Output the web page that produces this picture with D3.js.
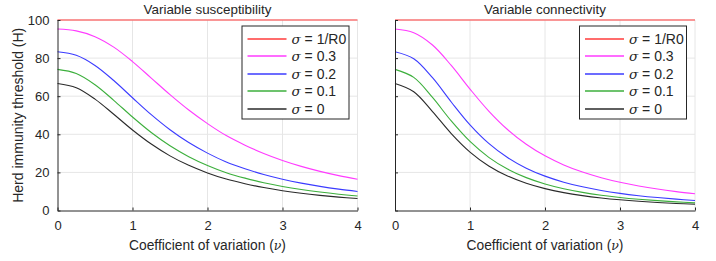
<!DOCTYPE html>
<html lang="en">
<head>
<meta charset="UTF-8">
<title>Herd immunity threshold</title>
<script src="https://cdn.jsdelivr.net/npm/d3@7"></script>
<style>
  body { margin: 0; background: #fff; }
  text { font-family: "Liberation Sans", Arial, Helvetica, sans-serif; fill: #262626; }
</style>
</head>
<body>
<script>
// coefficient of variation sample points
var cv = [0, 0.25, 0.5, 0.75, 1, 1.25, 1.5, 1.75, 2, 2.25, 2.5, 2.75, 3, 3.25, 3.5, 3.75, 4];

var xTicks = [0, 1, 2, 3, 4];
var yTicks = [0, 20, 40, 60, 80, 100];
var seriesNames = ["1/R0", "0.3", "0.2", "0.1", "0"];
var seriesColors = ["#ff3b3b", "#ff3bff", "#3b3bff", "#3caf3c", "#2a2a2a"];

// variable susceptibility panel (H in %)
var suscR0  = [100, 100, 100, 100, 100, 100, 100, 100, 100, 100, 100, 100, 100, 100, 100, 100, 100];
var susc03  = [95.24, 94.30, 91.25, 85.75, 78.18, 69.52, 60.81, 52.74, 45.61, 39.32, 34.29, 29.92, 26.25, 23.15, 20.53, 18.30, 16.40];
var susc02  = [83.33, 81.48, 76.15, 68.23, 59.18, 50.30, 42.38, 35.66, 30.12, 25.47, 21.90, 18.88, 16.40, 14.35, 12.65, 11.21, 10.00];
var susc01  = [74.07, 71.93, 66.04, 57.85, 49.08, 40.95, 33.99, 28.27, 23.66, 19.87, 16.99, 14.59, 12.63, 11.02, 9.69, 8.57, 7.63];
var susc00  = [66.67, 64.44, 58.48, 50.50, 42.26, 34.87, 28.68, 23.70, 19.73, 16.50, 14.06, 12.04, 10.40, 9.06, 7.96, 7.03, 6.26];

// variable connectivity panel (H in %)
var connR0  = [100, 100, 100, 100, 100, 100, 100, 100, 100, 100, 100, 100, 100, 100, 100, 100, 100];
var conn03  = [95.24, 93.32, 86.86, 76.13, 63.75, 52.20, 42.51, 34.77, 28.70, 23.94, 20.19, 17.21, 14.81, 12.86, 11.25, 9.93, 8.81];
var conn02  = [83.33, 79.66, 69.71, 56.97, 44.97, 35.23, 27.80, 22.23, 18.05, 14.88, 12.43, 10.52, 9.00, 7.78, 6.79, 5.97, 5.28];
var conn01  = [74.07, 69.88, 59.34, 47.02, 36.24, 27.91, 21.76, 17.26, 13.93, 11.43, 9.52, 8.03, 6.86, 5.92, 5.16, 4.53, 4.01];
var conn00  = [66.67, 62.34, 51.92, 40.37, 30.66, 23.38, 18.11, 14.29, 11.49, 9.40, 7.82, 6.59, 5.62, 4.84, 4.22, 3.70, 3.27];

var W = 716, H = 261;
var svg = d3.select("body").append("svg")
    .attr("width", W)
    .attr("height", H);

var y = d3.scaleLinear().domain([0, 100]).range([210.5, 20]);

function panel(x0, x1, title, series, showYLabels) {
  var x = d3.scaleLinear().domain([0, 4]).range([x0, x1]);
  var g = svg.append("g");

  // grid
  g.selectAll(".gx").data(xTicks.slice(1)).enter().append("line")
    .attr("x1", function(d) { return x(d); }).attr("x2", function(d) { return x(d); })
    .attr("y1", y(0)).attr("y2", y(100))
    .attr("stroke", "#e6e6e6").attr("stroke-width", 1);
  g.selectAll(".gy").data(yTicks.slice(1)).enter().append("line")
    .attr("x1", x0).attr("x2", x1)
    .attr("y1", function(d) { return y(d); }).attr("y2", function(d) { return y(d); })
    .attr("stroke", "#e6e6e6").attr("stroke-width", 1);

  // curves
  var line = d3.line()
    .x(function(d, i) { return x(cv[i]); })
    .y(function(d) { return y(d); })
    .curve(d3.curveCatmullRom.alpha(0.5));
  series.forEach(function(s, k) {
    g.append("path")
      .attr("d", line(s))
      .attr("fill", "none")
      .attr("stroke", seriesColors[k])
      .attr("stroke-width", 1.1);
  });

  // axes (ticks inside, MATLAB style)
  var xa = d3.axisBottom(x).tickValues(xTicks).tickFormat(d3.format("d"))
    .tickSizeInner(-3).tickSizeOuter(0).tickPadding(10);
  var ya = d3.axisLeft(y).tickValues(yTicks).tickFormat(d3.format("d"))
    .tickSizeInner(-3).tickSizeOuter(0).tickPadding(8);
  if (!showYLabels) ya.tickFormat("");
  var gx = g.append("g").attr("transform", "translate(0," + y(0) + ")").call(xa);
  var gy = g.append("g").attr("transform", "translate(" + x0 + ",0)").call(ya);
  [gx, gy].forEach(function(a) {
    a.select(".domain").attr("stroke", "#262626");
    a.selectAll(".tick line").attr("stroke", "#262626");
    a.selectAll("text").attr("font-size", "13px").attr("fill", "#262626")
      .attr("font-family", "Liberation Sans, Arial, sans-serif");
  });

  // title
  g.append("text")
    .attr("x", (x0 + x1) / 2).attr("y", 13.5)
    .attr("text-anchor", "middle").attr("font-size", "13.4px")
    .text(title);

  // x label
  var xl = g.append("text")
    .attr("x", (x0 + x1) / 2).attr("y", 250)
    .attr("text-anchor", "middle").attr("font-size", "13.8px");
  xl.append("tspan").text("Coefficient of variation (");
  xl.append("tspan").attr("font-style", "italic").attr("font-family", "DejaVu Serif, serif").attr("font-size", "12.5px").text("\u03bd");
  xl.append("tspan").text(")");

  // legend
  var lx1 = x1 - 8.5, lx0 = lx1 - 107;
  var lg = g.append("g");
  lg.append("rect")
    .attr("x", lx0).attr("y", 26).attr("width", lx1 - lx0).attr("height", 93)
    .attr("fill", "#fff").attr("stroke", "#262626").attr("stroke-width", 1);
  var rowY = d3.scaleLinear().domain([0, 4]).range([38.5, 108.5]);
  seriesNames.forEach(function(n, k) {
    var ry = Math.round(rowY(k));
    lg.append("line")
      .attr("x1", lx0 + 5.5).attr("x2", lx0 + 44.5)
      .attr("y1", ry).attr("y2", ry)
      .attr("stroke", seriesColors[k]).attr("stroke-width", 1.3);
    var t = lg.append("text")
      .attr("x", lx0 + 49.5).attr("y", rowY(k) + 5)
      .attr("font-size", "14px");
    t.append("tspan").attr("font-style", "italic").attr("font-family", "DejaVu Serif, serif").attr("font-size", "13.5px").text("\u03c3");
    t.append("tspan").text(" = " + n);
  });
}

panel(57.5, 357.5, "Variable susceptibility", [suscR0, susc03, susc02, susc01, susc00], true);
panel(395, 695, "Variable connectivity", [connR0, conn03, conn02, conn01, conn00], false);

// y label
svg.append("text")
  .attr("transform", "translate(23," + y(50) + ") rotate(-90)")
  .attr("text-anchor", "middle").attr("font-size", "14px")
  .text("Herd immunity threshold (H)");
</script>
</body>
</html>
